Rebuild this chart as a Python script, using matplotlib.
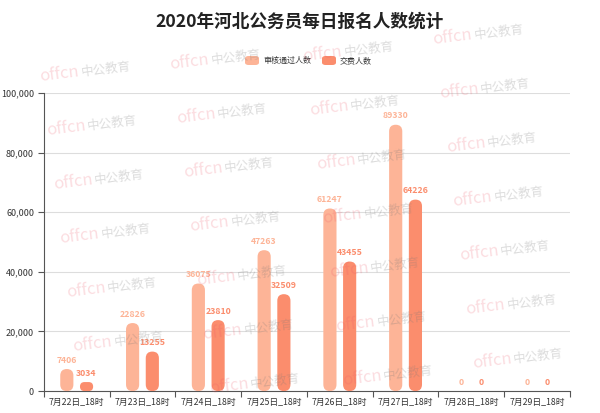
import numpy as np
import matplotlib.pyplot as plt
from matplotlib.patches import FancyBboxPatch

plt.rcParams['font.family'] = ['Noto Sans CJK SC', 'DejaVu Sans']

categories = ["7月22日_18时", "7月23日_18时", "7月24日_18时", "7月25日_18时",
              "7月26日_18时", "7月27日_18时", "7月28日_18时", "7月29日_18时"]
passed = [7406, 22826, 36075, 47263, 61247, 89330, 0, 0]
paid = [3034, 13255, 23810, 32509, 43455, 64226, 0, 0]
series_names = ["审核通过人数", "交费人数"]
colors = ["#fdb497", "#fb8d6d"]

W, H = 600, 413
fig = plt.figure(figsize=(W / 100, H / 100), dpi=100)
ax = fig.add_axes([0.073, 0.053, 0.877, 0.722])
ax.set_xlim(-0.5, len(categories) - 0.5)
ax.set_ylim(0, 100000)

# units per pixel, used to keep the rounded ends circular
fig.canvas.draw()
bb = ax.get_window_extent()
xu = (len(categories)) / bb.width
yu = 100000 / bb.height
aspect = yu / xu

w = 0.2
offs = [-0.15, 0.15]
for s, vals in enumerate([passed, paid]):
    for i, v in enumerate(vals):
        x = i + offs[s]
        if v > 0:
            r = min(w / 2, v / 2 / aspect)
            p = FancyBboxPatch((x - w / 2, 0), w, v,
                               boxstyle=f"round,pad=0,rounding_size={r}",
                               mutation_aspect=aspect, fc=colors[s], ec="none", zorder=3)
            ax.add_patch(p)
        ax.text(x, v + 1500, str(v), ha="center", va="bottom", color=colors[s],
                fontsize=6.3, fontweight="bold", zorder=4)

ax.set_yticks(np.arange(0, 100001, 20000))
ax.set_yticklabels([f"{v:,}" for v in range(0, 100001, 20000)], fontsize=6.5, color="#333333")
ax.grid(axis="y", color="#dddddd", lw=0.8, zorder=0)
ax.set_xticks(np.arange(-0.5, len(categories), 1))
ax.set_xticklabels([])
ax.set_xticks(np.arange(len(categories)), minor=True)
ax.set_xticklabels(categories, minor=True, fontsize=6.3, color="#333333")
ax.tick_params(axis="x", which="minor", length=0, pad=5)
ax.tick_params(axis="x", which="major", length=4, color="#555555")
ax.tick_params(axis="y", length=4, color="#555555", pad=3)
for side in ["top", "right"]:
    ax.spines[side].set_visible(False)
ax.spines["left"].set_color("#555555")
ax.spines["bottom"].set_color("#555555")

fig.text(0.5, 1 - 22 / H, "2020年河北公务员每日报名人数统计", ha="center", va="center",
         fontsize=12.7, fontweight="bold", color="#222222")

# legend
for s, name in enumerate(series_names):
    lx = [245, 322][s]
    fig.patches.append(FancyBboxPatch((lx / W, 1 - 65 / H), 14 / W, 9 / H, transform=fig.transFigure,
                                      boxstyle="round,pad=0,rounding_size=0.006",
                                      fc=colors[s], ec="none"))
    fig.text((lx + 18) / W, 1 - 60.5 / H, name, fontsize=5.8, va="center", color="#333333")

# watermark grid
starts = [(40, 77), (170, 65), (303, 57), (433, 40)]
for bx, by in starts:
    for r in range(8):
        x, y = bx + 6.6 * r, by + 54 * r
        if y > 395:
            break
        fig.text(x / W, 1 - y / H, "offcn", fontsize=12, color="#ee5566",
                 alpha=0.2, rotation=7, rotation_mode="anchor", va="center", ha="left", zorder=10)
        fig.text((x + 41) / W, 1 - (y - 5) / H, "中公教育", fontsize=9, color="#777777", alpha=0.25,
                 rotation=7, rotation_mode="anchor", va="center", ha="left", zorder=10)

fig.savefig("out.png", dpi=100)
